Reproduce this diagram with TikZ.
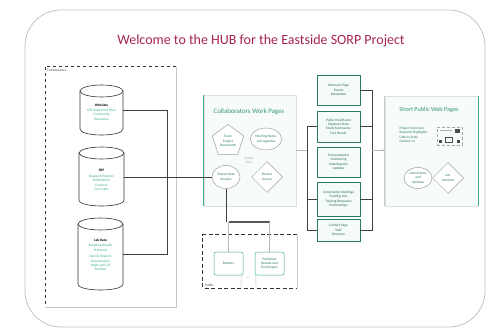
\documentclass[tikz,border=0pt]{standalone}
\usepackage{fontspec}
\setmainfont{Carlito}
\usetikzlibrary{shapes.geometric,arrows.meta}
\definecolor{teal1}{HTML}{3DAE8F}
\definecolor{crim}{HTML}{A82452}
\definecolor{framec}{HTML}{C4C4C4}
\newcommand{\mycyl}[4]{%
 \filldraw[cylstyle] (#1-#4,#2+6) -- (#1-#4,#3-6) .. controls (#1-#4,#3+2) and (#1+#4,#3+2) .. (#1+#4,#3-6) -- (#1+#4,#2+6);
 \draw[cylstyle] (#1,#2+6) ellipse [x radius=#4, y radius=6];}
\tikzset{
 tiny/.style={font=\fontsize{3.5}{4.4}\selectfont, align=center},
 cylstyle/.style={draw=black!80, line width=0.6pt, fill=white},
 wire/.style={draw=black!75, line width=0.6pt},
 thinwire/.style={draw=gray!55, line width=0.4pt},
 stackbox/.style={draw=teal1!70!black, line width=0.7pt, fill=teal1!5, minimum width=43pt, inner sep=1pt, tiny, text=teal1!60!black},
 shapeitem/.style={draw=gray!75, line width=0.5pt, fill=white, tiny, text=teal1!70!black, inner sep=0.5pt},
 pagebox/.style={draw=gray!25, line width=0.5pt, fill=teal1!4},
 longdash/.style={dash pattern=on 4pt off 2.5pt},
}
\begin{document}
\begin{tikzpicture}[x=1pt,y=-1pt]
\useasboundingbox (0,0) rectangle (487,331);
\fill[white] (0,0) rectangle (487,331);
% outer frame
\draw[framec, line width=0.8pt, rounded corners=36pt] (25,10) rectangle (485,327);
\node[text=crim, font=\fontsize{14}{16}\selectfont] (title) at (261,41) {Welcome to the HUB for the Eastside SORP Project};

% left container
\node[minimum width=131, minimum height=240, inner sep=0] (collab) at (110.5,187) {};
\draw[black!80, dashed, line width=0.6pt] (collab.north east) -- (collab.north west) -- (collab.south west);
\draw[gray!45, line width=0.5pt] (collab.north east) -- (collab.south east) -- (collab.south west);
\node[tiny, anchor=north west, text=black!70, inner sep=1pt] (collablbl) at (46,68) {Collaborators};

% cylinders
\mycyl{101.5}{85}{135}{21.5}
\mycyl{101.5}{147}{206}{22.5}
\mycyl{100.5}{218}{290}{22.5}
\node[minimum width=43, minimum height=50, inner sep=0] (web) at (101.5,110) {};
\node[minimum width=45, minimum height=59, inner sep=0] (srp) at (101.5,177) {};
\node[minimum width=45, minimum height=72, inner sep=0] (lab) at (100.5,254) {};
\node[tiny] (webt) at (101.5,112) {\textbf{Websites}\\[1pt]\textcolor{teal1}{EPA Superfund Sites}\\\textcolor{teal1}{Community}\\\textcolor{teal1}{Resources}};
\node[tiny] (srpt) at (101.5,180) {\textbf{SRP}\\[1pt]\textcolor{teal1}{Research Projects}\\\textcolor{teal1}{Publications}\\\textcolor{teal1}{Contacts}\\\textcolor{teal1}{Core Labs}};
\node[tiny] (labt) at (100.5,255) {\textbf{Lab Data}\\[1pt]\textcolor{teal1}{Sampling Results}\\\textcolor{teal1}{Protocols}\\[2pt]\textcolor{teal1}{QA/QC Reports}\\\textcolor{teal1}{Data Analysis}\\\textcolor{teal1}{Maps and GIS}\\\textcolor{teal1}{Archives}};

% collaborators work pages
\node[pagebox, minimum width=92, minimum height=111, inner sep=0] (cwp) at (250,150.5) {};
\draw[teal1, line width=0.9pt] (cwp.north west) -- (cwp.south west);
\node[text=teal1!85!black, font=\fontsize{6.8}{8}\selectfont] (cwpt) at (249,112) {Collaborators Work Pages};
\node[shapeitem, regular polygon, regular polygon sides=5, minimum size=33] (p1) at (228,141) {Team\\Project\\Documents};
\node[shapeitem, ellipse, minimum width=28, minimum height=22] (e1) at (266,139) {Meeting Notes\\and Agendas};
\node[shapeitem, ellipse, minimum width=28, minimum height=23] (e3) at (226,177) {Shared Data\\Analysis};
\node[shapeitem, diamond, minimum size=31] (d1) at (267,177) {Review\\Queue};
\node[tiny, text=gray!70] (lnk) at (249,160) {linked\\files};

% connectors from cylinders
\coordinate (bus) at (167,110);
\draw[wire] (web.east) -- (bus) |- (lab.east);
\draw[wire] (srp.east) -- (e3.west);

% bottom public box
\node[minimum width=94, minimum height=53, inner sep=0] (pub) at (250,261.5) {};
\draw[black!80, longdash, line width=1pt] (pub.north east) -- (pub.north west) -- (pub.south west) -- (pub.south east);
\draw[gray!40, line width=0.5pt] (pub.north east) -- (pub.south east);
\node[tiny, anchor=south west, text=black!70, inner sep=1pt] (publbl) at (204,288) {Public};
\node[shapeitem, draw=teal1, rounded corners=2pt, minimum width=29, minimum height=23] (b1) at (228.5,263.5) {Reports};
\node[shapeitem, draw=teal1, rounded corners=2pt, minimum width=29, minimum height=23] (b2) at (269.5,263.5) {Published\\Results and\\Final Papers};
\coordinate (barl) at (228.5,222);
\coordinate (barr) at (269.5,222);
\draw[wire] (e3.south) -- (226,222);
\draw[black!65, line width=1.6pt] (barl) -- (barr);
\draw[thinwire] (barl) -- (b1.north);
\draw[thinwire] (barr) -- (b2.north);
\coordinate (b1d) at (241,288);
\coordinate (b2d) at (256,288);
\draw[thinwire] (b1.south east) ++(-2,0) -- (b1d);
\draw[thinwire] (b2.south west) ++(1,0) -- (b2d);
\node[tiny, text=gray!60] (orl) at (248.5,278) {or};

% stack boxes
\node[stackbox, minimum height=30] (s1) at (338.5,90) {Outreach Page\\Events\\Newsletter};
\node[stackbox, minimum height=31] (s2) at (338.5,126.5) {Public Health and\\Exposure Data\\Study Summaries\\Fact Sheets};
\node[stackbox, minimum height=30] (s3) at (338.5,162) {Environmental\\Monitoring\\Data Reports\\Updates};
\node[stackbox, minimum height=34] (s4) at (338.5,199) {Community Meetings\\Funding Info\\Training Resources\\Partnerships};
\node[stackbox, minimum height=22] (s5) at (338.5,230.5) {Contact Page\\Staff\\Directory};

\coordinate (lb) at (307,126.5);
\coordinate (rb) at (372,90);
\draw[wire] (s2.west) -- (lb) |- (s5.west);
\draw[wire] (s4.west) -- (s4.west -| lb);
\draw[wire] (s1.east) -- (rb) |- (s5.east);
\draw[wire] (s2.east) -- (s2.east -| rb);
\draw[wire] (s4.east) -- (s4.east -| rb);
\draw[thinwire] (cwp.east |- 0,150) -- (lb |- 0,150);

% short public web pages
\node[pagebox, minimum width=93, minimum height=110, inner sep=0] (spw) at (431.5,151) {};
\draw[teal1, line width=0.9pt] (spw.north east) -- (spw.south east);
\draw[gray!40, line width=0.6pt] (spw.north west) -- (spw.south west);
\node[text=teal1!85!black, font=\fontsize{6.2}{7}\selectfont] (spwt) at (429,110) {Short Public Web Pages};
\draw[thinwire, -{Stealth[length=2pt]}] (rb |- 0,150) -- (spw.west |- 0,150);
\node[tiny, align=left, text=teal1!70!black, anchor=west] (spwtx) at (396,135) {Project Overview\\Research Highlights\\Links to Data\\Contact Us};
\node[draw=gray!70, densely dashed, line width=0.4pt, minimum width=25, minimum height=18] (icon) at (449.5,136) {};
\fill[black!70] (455,129) rectangle (460,133);
\fill[black!70] (438.5,140) rectangle (442,143.5);
\fill[black!70] (456.5,140) rectangle (460,143.5);
\draw[black!70, line width=0.5pt] (445.5,137) rectangle (452.5,142.5);
\draw[gray!60, line width=0.3pt] (440,130) -- (452,130);
\node[shapeitem, ellipse, minimum width=28, minimum height=21] (e4) at (418,178) {Latest News\\and\\Updates};
\node[shapeitem, diamond, minimum size=31] (d2) at (448,178) {Get\\Involved};
\end{tikzpicture}
\end{document}
